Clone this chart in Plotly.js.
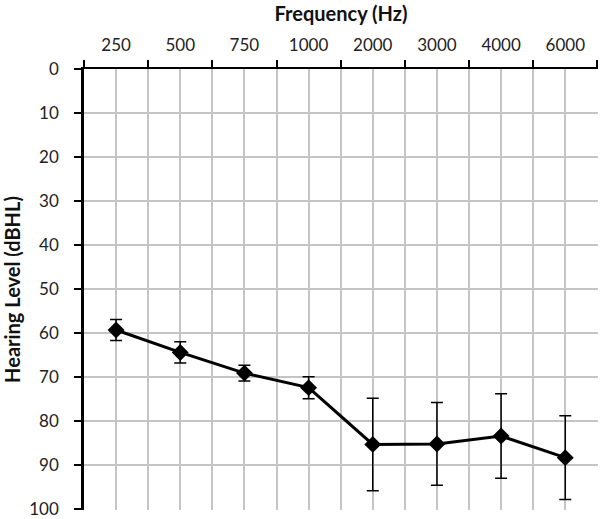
<!DOCTYPE html>
<html>
<head>
<meta charset="utf-8">
<script src="https://cdn.plot.ly/plotly-3.0.1.min.js"></script>
<style>
  html, body { margin: 0; padding: 0; background: #fff; }
  #chart { width: 600px; height: 519px; }
</style>
</head>
<body>
<div id="chart"></div>
<script>
// audiogram values
var freqs = ['250', '500', '750', '1000', '2000', '3000', '4000', '6000'];
var hearingLevel = [59.3, 64.4, 69.1, 72.4, 85.3, 85.2, 83.4, 88.3];
var errLevel = [2.4, 2.4, 1.8, 2.5, 10.5, 9.4, 9.6, 9.5];

var xIdx = freqs.map(function (f, i) { return i; });
var bounds = [];
for (var b = -0.5; b <= freqs.length - 0.5; b += 1) bounds.push(b);
var xRange = [-0.5, freqs.length - 0.5 + 0.01];

var trace1 = {
  x: xIdx,
  y: hearingLevel,
  type: 'scatter',
  mode: 'lines+markers',
  line: { color: '#000', width: 3 },
  marker: { symbol: 'diamond', size: 13, color: '#000' },
  error_y: { type: 'data', array: errLevel, visible: true, color: '#000', thickness: 1.5, width: 6 },
  showlegend: false,
  hoverinfo: 'x+y'
};
// invisible helper so the boundary-tick axis is drawn
var helper = {
  x: [bounds[0]], y: [0], xaxis: 'x2', type: 'scatter', mode: 'markers',
  marker: { opacity: 0 }, showlegend: false, hoverinfo: 'skip'
};

var font = 'Lato, "Open Sans", sans-serif';
var layout = {
  width: 600,
  height: 519,
  margin: { l: 84, r: 2, t: 69, b: 9 },
  paper_bgcolor: '#fff',
  plot_bgcolor: '#fff',
  font: { family: font, size: 17, color: '#222' },
  xaxis: {
    side: 'top',
    range: xRange,
    tickmode: 'array',
    tickvals: xIdx,
    ticktext: freqs,
    ticks: '',
    ticklabelstandoff: 14,
    showgrid: true,
    gridcolor: '#c4c4c4',
    gridwidth: 1.5,
    zeroline: false,
    title: { text: 'Frequency (Hz)', font: { family: font, size: 20, color: '#111', weight: 'bold' }, standoff: 6 },
    tickfont: { family: font, size: 17, color: '#222' },
    fixedrange: true
  },
  xaxis2: {
    overlaying: 'x',
    side: 'top',
    range: xRange,
    tickmode: 'array',
    tickvals: bounds,
    ticks: 'outside',
    ticklen: 7,
    tickwidth: 1.5,
    tickcolor: '#000',
    showticklabels: false,
    showgrid: true,
    gridcolor: '#c4c4c4',
    gridwidth: 1.5,
    showline: true,
    linecolor: '#000',
    linewidth: 2,
    zeroline: false,
    fixedrange: true
  },
  yaxis: {
    range: [100.2, 0],
    tickmode: 'linear',
    tick0: 0,
    dtick: 10,
    ticks: 'outside',
    ticklen: 7,
    tickwidth: 1.5,
    tickcolor: '#000',
    ticklabelstandoff: 12,
    ticklabeloverflow: 'allow',
    showline: true,
    linecolor: '#000',
    linewidth: 2.5,
    showgrid: true,
    gridcolor: '#c4c4c4',
    gridwidth: 1.5,
    zeroline: false,
    title: { text: 'Hearing Level (dBHL)', font: { family: font, size: 20, color: '#111', weight: 'bold' }, standoff: 12 },
    tickfont: { family: font, size: 17, color: '#222' },
    fixedrange: true
  }
};

var config = { displayModeBar: false, responsive: false };
Plotly.newPlot('chart', [trace1, helper], layout, config);
</script>
</body>
</html>
